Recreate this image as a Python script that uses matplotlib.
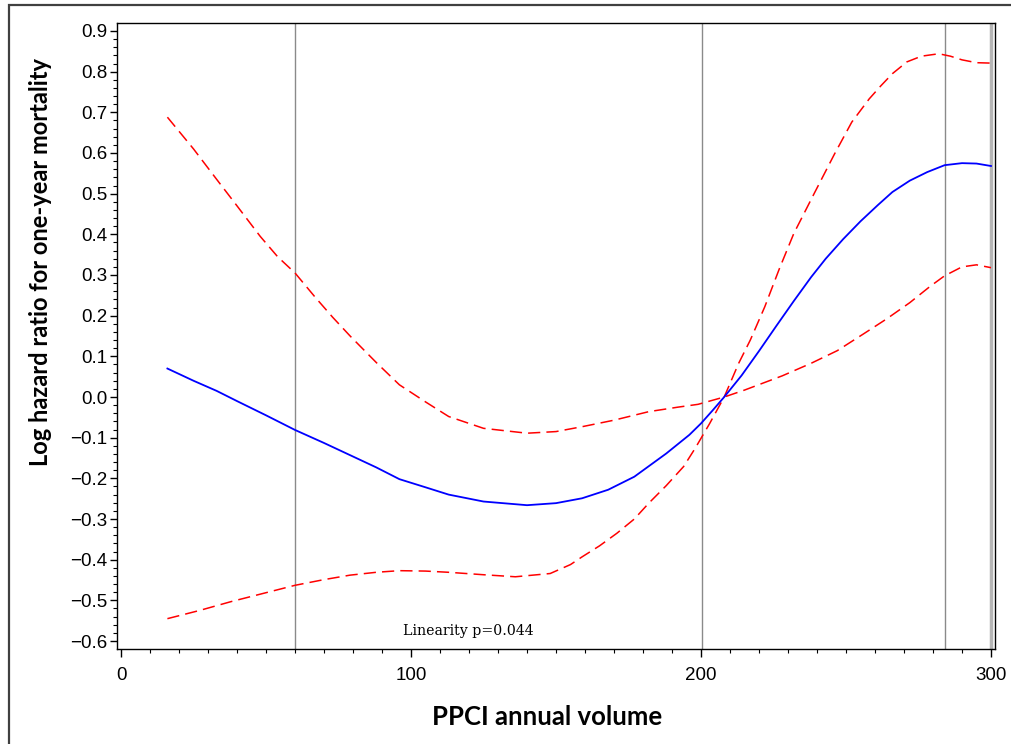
import matplotlib
matplotlib.use("Agg")
import matplotlib.pyplot as plt
from matplotlib.patches import Rectangle
from matplotlib.ticker import MultipleLocator, FuncFormatter

# spline estimate (log HR) and 95% CI
vol = [16, 25, 33, 40, 50, 60, 70, 79, 88, 96, 105, 113, 125, 140, 150, 159,
       168, 177, 188, 196, 200, 204, 208, 214, 220, 226, 232, 238, 243, 249,
       255, 261, 266, 272, 278, 284, 290, 295, 300]
log_hr = [0.070, 0.040, 0.015, -0.010, -0.045, -0.081, -0.113, -0.143, -0.173,
          -0.202, -0.222, -0.240, -0.257, -0.266, -0.261, -0.249, -0.228,
          -0.196, -0.139, -0.093, -0.065, -0.033, 0.0, 0.053, 0.113, 0.175,
          0.236, 0.295, 0.340, 0.388, 0.432, 0.472, 0.504, 0.532, 0.553,
          0.570, 0.575, 0.574, 0.568]

vol_a = [16, 27, 38, 49, 60, 70, 79, 88, 96, 105, 113, 125, 136, 148, 155, 159,
         165, 171, 177, 182, 188, 194, 198, 203, 208, 213, 217, 222, 227, 232,
         239, 246, 252, 258, 262, 266, 271, 276, 282, 286, 290, 295, 300]
ci_a = [-0.545, -0.525, -0.503, -0.483, -0.463, -0.449, -0.438, -0.431, -0.427,
        -0.428, -0.431, -0.437, -0.442, -0.434, -0.412, -0.393, -0.366, -0.335,
        -0.300, -0.261, -0.218, -0.171, -0.126, -0.065, 0.0, 0.083, 0.140,
        0.222, 0.315, 0.402, 0.500, 0.597, 0.676, 0.733, 0.765, 0.795, 0.824,
        0.838, 0.844, 0.838, 0.829, 0.822, 0.821]

vol_b = [16, 25, 33, 40, 48, 54, 60, 67, 73, 79, 88, 96, 105, 113, 125, 140,
         150, 159, 170, 182, 192, 199, 208, 215, 228, 238, 247, 256, 264, 272,
         279, 284, 290, 295, 300]
ci_b = [0.688, 0.610, 0.535, 0.470, 0.395, 0.345, 0.305, 0.245, 0.196, 0.150,
        0.085, 0.030, -0.012, -0.048, -0.077, -0.089, -0.085, -0.073, -0.057,
        -0.036, -0.025, -0.018, 0.0, 0.017, 0.052, 0.083, 0.114, 0.155, 0.192,
        0.232, 0.272, 0.298, 0.320, 0.325, 0.318]

knots = [60, 200.5, 284]
max_vol = 300

fig = plt.figure(figsize=(10.11, 7.44), dpi=100)
fig.patches.append(Rectangle((9 / 1011, -0.05), 1.2, 1.05 - 5 / 744,
                             transform=fig.transFigure, fill=False,
                             edgecolor="#404040", lw=1.6))

ax = fig.add_axes([117 / 1011, 95 / 744, 878 / 1011, 626 / 744])

for k in knots:
    ax.axvline(k, color="#8a8a8a", lw=1.0, zorder=1)
ax.axvline(max_vol, color="#b5b5b5", lw=2.5, zorder=1)

ax.plot(vol, log_hr, color="#0000ff", lw=1.3, zorder=3)
ax.plot(vol_a, ci_a, color="#ff0000", lw=1.1, dashes=(8, 4), zorder=2)
ax.plot(vol_b, ci_b, color="#ff0000", lw=1.1, dashes=(8, 4), zorder=2)

ax.set_xlim(-1.38, 301.38)
ax.set_ylim(-0.6196, 0.9196)

ax.xaxis.set_major_locator(MultipleLocator(100))
ax.xaxis.set_minor_locator(MultipleLocator(10))
ax.yaxis.set_major_locator(MultipleLocator(0.1))
ax.yaxis.set_minor_locator(MultipleLocator(0.02))

def yfmt(v, pos):
    s = "%.1f" % v
    if s == "-0.0":
        s = "0.0"
    return s.replace("-", "\u2212")

ax.yaxis.set_major_formatter(FuncFormatter(yfmt))
ax.tick_params(axis="both", which="major", direction="out", length=5,
               width=1, labelsize=13.5, colors="black")
ax.tick_params(axis="both", which="minor", direction="out", length=3, width=0.8)
ax.tick_params(axis="y", which="major", pad=2)
ax.tick_params(axis="x", which="major", length=6, pad=7)
for lab in ax.get_xticklabels() + ax.get_yticklabels():
    lab.set_family("Liberation Sans")

for sp in ax.spines.values():
    sp.set_linewidth(1.0)

ax.set_xlabel("PPCI annual volume", fontsize=18.5, fontweight="bold",
              family="Lato", labelpad=14)
ax.xaxis.set_label_coords(0.49, -0.089)
ax.set_ylabel("Log hazard ratio for one-year mortality", fontsize=17,
              fontweight="bold", family="Lato", labelpad=12)
ax.yaxis.set_label_coords(-0.074, 0.618)

ax.text(97.2, -0.575, "Linearity p=0.044", fontsize=10.2,
        family="DejaVu Serif", ha="left", va="center")

fig.savefig("out.png", dpi=100)
